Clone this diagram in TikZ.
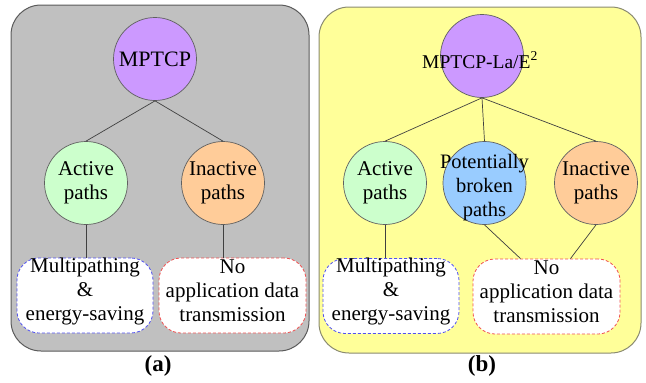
\documentclass[tikz,border=0pt]{standalone}
\usepackage{fontspec}
\setmainfont{Liberation Serif}
\newfontfamily\timesfam{Liberation Serif}
\definecolor{panelA}{HTML}{C0C0C0}
\definecolor{edgeA}{HTML}{5A5A5A}
\definecolor{panelB}{HTML}{FFFF99}
\definecolor{edgeB}{HTML}{8A8A70}
\definecolor{purpleC}{HTML}{CC99FF}
\definecolor{greenC}{HTML}{CCFFCC}
\definecolor{orangeC}{HTML}{FFCC99}
\definecolor{blueC}{HTML}{99CCFF}
\definecolor{rimC}{HTML}{606060}
\definecolor{linkC}{HTML}{404040}
\definecolor{dashBlue}{HTML}{5050F0}
\definecolor{dashRed}{HTML}{F05050}
\begin{document}
\begin{tikzpicture}[x=1pt,y=-1pt,
  panel/.style={rounded corners=30pt, line width=1pt},
  state/.style={circle, draw=rimC, line width=0.7pt, minimum size=83pt,
    inner sep=0pt, align=center, font=\timesfam\fontsize{21}{24}\selectfont},
  outcome/.style={draw, rounded corners=22pt, dash pattern=on 3pt off 2pt,
    fill=white, line width=0.8pt, minimum height=75pt, inner sep=0pt},
  txt/.style={align=center, inner sep=0pt, font=\timesfam\fontsize{21}{24}\selectfont},
  link/.style={draw=linkC, line width=0.7pt},
  caption/.style={inner sep=0pt, font=\timesfam\fontsize{23}{26}\selectfont\bfseries}]
\useasboundingbox (0,0) rectangle (646,383);

% ---- panel (a): plain MPTCP ----
\draw[panel, fill=panelA, draw=edgeA] (11,5) rectangle (309,351);
\node[state, fill=purpleC, font=\timesfam\fontsize{22}{24}\selectfont] (mA) at (155,59) {MPTCP};
\node[state, fill=greenC] (actA) at (86,183) {Active\\paths};
\node[state, fill=orangeC] (inaA) at (223,183) {Inactive\\paths};
\node[outcome, draw=dashBlue, minimum width=136pt] (mpA) at (85,295.5) {};
\node[outcome, draw=dashRed, minimum width=147pt] (noA) at (232.5,295.5) {};
\node[txt] (mpAt) at ([yshift=4.5pt]mpA.center) {Multipathing\\\&\\energy-saving};
\node[txt] (noAt) at ([yshift=4.5pt]noA.center) {No\\application data\\transmission};
\draw[link] (mA.south) -- (actA.north);
\draw[link] (mA.south) -- (inaA.north);
\draw[link] (actA.south) -- (actA.south |- mpA.north);
\draw[link] (inaA.south) -- (inaA.south |- noA.north);
\node[caption] (capA) at (158,366) {(a)};

% ---- panel (b): MPTCP-La/E^2 ----
\draw[panel, fill=panelB, draw=edgeB] (319,7) rectangle (641,353);
\node[state, fill=purpleC] (mB) at (482,56) {};
\node[txt, font=\timesfam\fontsize{19.5}{22}\selectfont] (mBt) at (480,60) {MPTCP-La/E\textsuperscript{2}};
\node[state, fill=greenC] (actB) at (385,183) {Active\\paths};
\node[state, fill=blueC] (pbB) at (484.5,183) {};
\node[txt, font=\timesfam\fontsize{20.5}{24}\selectfont] (pbBt) at ([yshift=-4.5pt]pbB.center) {Potentially\\broken\\paths};
\node[state, fill=orangeC] (inaB) at (596,183) {Inactive\\paths};
\node[outcome, draw=dashBlue, minimum width=136pt] (mpB) at (391,296) {};
\node[outcome, draw=dashRed, minimum width=147pt] (noB) at (546.5,296.5) {};
\node[txt] (mpBt) at ([yshift=4.5pt]mpB.center) {Multipathing\\\&\\energy-saving};
\node[txt] (noBt) at ([yshift=4.5pt]noB.center) {No\\application data\\transmission};
\draw[link] (mB.south) -- (actB.north);
\draw[link] (mB.south) -- (pbB.north);
\draw[link] (mB.south) -- (inaB.north);
\draw[link] (actB.south) -- (actB.south |- mpB.north);
\draw[link] (pbB.south) -- ([xshift=-26pt]noB.north);
\draw[link] (inaB.south) -- ([xshift=24pt]noB.north);
\node[caption] (capB) at (482,366) {(b)};
\end{tikzpicture}
\end{document}
